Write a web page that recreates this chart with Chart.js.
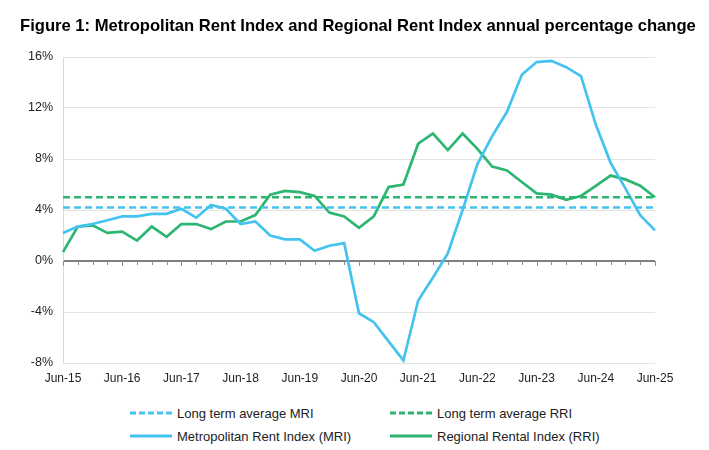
<!DOCTYPE html>
<html>
<head>
<meta charset="utf-8">
<script src="https://cdn.jsdelivr.net/npm/chart.js@4.4.1/dist/chart.umd.min.js"></script>
<style>
  body { margin: 0; background: #fff; font-family: "Liberation Sans", Arial, sans-serif; }
  #wrap { position: relative; width: 709px; height: 450px; overflow: hidden; }
  #title { position: absolute; left: 20px; top: 16px; font-weight: bold; font-size: 16.6px; color: #000; white-space: nowrap; }
  #box { position: absolute; left: 0; top: 0; width: 709px; height: 400px; }
  .leg { position: absolute; font-size: 13px; color: #222; white-space: nowrap; display: flex; align-items: center; }
  .leg svg { margin-right: 5px; }
</style>
</head>
<body>
<div id="wrap">
  <div id="box"><canvas id="chart"></canvas></div>
  <div id="title">Figure 1: Metropolitan Rent Index and Regional Rent Index annual percentage change</div>
  <div id="legend"></div>
</div>
<script>
const quarters = [
  "Jun-15", "Sep-15", "Dec-15", "Mar-16", "Jun-16", "Sep-16", "Dec-16", "Mar-17",
  "Jun-17", "Sep-17", "Dec-17", "Mar-18", "Jun-18", "Sep-18", "Dec-18", "Mar-19",
  "Jun-19", "Sep-19", "Dec-19", "Mar-20", "Jun-20", "Sep-20", "Dec-20", "Mar-21",
  "Jun-21", "Sep-21", "Dec-21", "Mar-22", "Jun-22", "Sep-22", "Dec-22", "Mar-23",
  "Jun-23", "Sep-23", "Dec-23", "Mar-24", "Jun-24", "Sep-24", "Dec-24", "Mar-25",
  "Jun-25"
];

const mri = [
  2.2, 2.7, 2.9, 3.2, 3.5, 3.5, 3.7, 3.7, 4.1, 3.4, 4.4, 4.1, 2.9, 3.1, 2.0, 1.7,
  1.7, 0.8, 1.2, 1.4, -4.1, -4.8, -6.3, -7.8, -3.1, -1.3, 0.6, 4.0, 7.6, 9.8,
  11.7, 14.6, 15.6, 15.7, 15.2, 14.5, 10.7, 7.7, 5.7, 3.6, 2.4
];

const rri = [
  0.7, 2.7, 2.8, 2.2, 2.3, 1.6, 2.7, 1.9, 2.9, 2.9, 2.5, 3.1, 3.1, 3.6, 5.2, 5.5,
  5.4, 5.1, 3.8, 3.5, 2.6, 3.5, 5.8, 6.0, 9.2, 10.0, 8.7, 10.0, 8.8, 7.4,
  7.1, 6.2, 5.3, 5.2, 4.8, 5.1, 5.9, 6.7, 6.4, 5.9, 5.0
];

const mriAverage = 4.2;
const rriAverage = 5.0;

const yTicks = [-8, -4, 0, 4, 8, 12, 16];

const blue = "#44c3ef";
const green = "#2db572";

const seriesNames = [
  "Long term average MRI",
  "Long term average RRI",
  "Metropolitan Rent Index (MRI)",
  "Regional Rental Index (RRI)"
];

function flatLine(value) {
  return [
    { x: quarters[0], y: value },
    { x: quarters[quarters.length - 1], y: value }
  ];
}

// small tick marks hanging under the zero line
const zeroTicks = {
  id: "zeroTicks",
  afterDatasetsDraw(chart) {
    const { ctx, scales } = chart;
    const y0 = scales.y.getPixelForValue(0);
    ctx.save();
    ctx.strokeStyle = "#8c8c8c";
    ctx.lineWidth = 1;
    quarters.forEach((q, i) => {
      const x = Math.round(scales.x.getPixelForValue(i)) + 0.5;
      const len = i % 4 === 0 ? 5 : 4;
      ctx.beginPath();
      ctx.moveTo(x, y0);
      ctx.lineTo(x, y0 + len);
      ctx.stroke();
    });
    ctx.restore();
  }
};

new Chart(document.getElementById("chart"), {
  type: "line",
  data: {
    labels: quarters,
    datasets: [
      {
        label: seriesNames[0],
        data: flatLine(mriAverage),
        borderColor: blue,
        borderWidth: 2.5,
        borderDash: [7, 4],
        pointRadius: 0
      },
      {
        label: seriesNames[1],
        data: flatLine(rriAverage),
        borderColor: green,
        borderWidth: 2.5,
        borderDash: [7, 4],
        pointRadius: 0
      },
      {
        label: seriesNames[2],
        data: mri,
        borderColor: blue,
        borderWidth: 2.7,
        pointRadius: 0,
        tension: 0
      },
      {
        label: seriesNames[3],
        data: rri,
        borderColor: green,
        borderWidth: 2.7,
        pointRadius: 0,
        tension: 0
      }
    ]
  },
  options: {
    responsive: true,
    maintainAspectRatio: false,
    animation: false,
    layout: { padding: { left: 8, right: 54, top: 57, bottom: 0 } },
    plugins: {
      legend: { display: false },
      tooltip: { enabled: false }
    },
    scales: {
      x: {
        grid: { display: false, drawTicks: false },
        border: { display: false },
        ticks: {
          autoSkip: false,
          maxRotation: 0,
          padding: 8,
          color: "#222",
          font: { family: "Liberation Sans", size: 12 },
          callback: (v, i) => (i % 4 === 0 ? quarters[i] : "")
        },
        afterFit: (s) => { s.height = 37; }
      },
      y: {
        min: yTicks[0],
        max: yTicks[yTicks.length - 1],
        afterBuildTicks: (s) => { s.ticks = yTicks.map((v) => ({ value: v })); },
        grid: {
          drawTicks: false,
          color: (c) => (c.tick && c.tick.value === 0 ? "#7f7f7f" : "#e3e3e3"),
          lineWidth: (c) => (c.tick && c.tick.value === 0 ? 2 : 1)
        },
        border: { color: "#d9d9d9" },
        ticks: {
          padding: 10,
          color: "#222",
          font: { family: "Liberation Sans", size: 12.5 },
          callback: (v) => v + "%"
        },
        afterFit: (s) => { s.width = 55; }
      }
    }
  },
  plugins: [zeroTicks]
});

// legend in two columns like the original
const legendItems = [
  { name: seriesNames[0], color: blue, dashed: true, left: 130, top: 404 },
  { name: seriesNames[1], color: green, dashed: true, left: 390, top: 404 },
  { name: seriesNames[2], color: blue, dashed: false, left: 130, top: 427 },
  { name: seriesNames[3], color: green, dashed: false, left: 390, top: 427 }
];
const legendEl = document.getElementById("legend");
legendItems.forEach((it) => {
  const d = document.createElement("div");
  d.className = "leg";
  d.style.left = it.left + "px";
  d.style.top = it.top + "px";
  const dash = it.dashed ? 'stroke-dasharray="6,3"' : "";
  d.innerHTML =
    '<svg width="42" height="18"><line x1="0" y1="9" x2="42" y2="9" stroke="' + it.color +
    '" stroke-width="3" ' + dash + '/></svg><span>' + it.name + "</span>";
  legendEl.appendChild(d);
});
</script>
</body>
</html>
